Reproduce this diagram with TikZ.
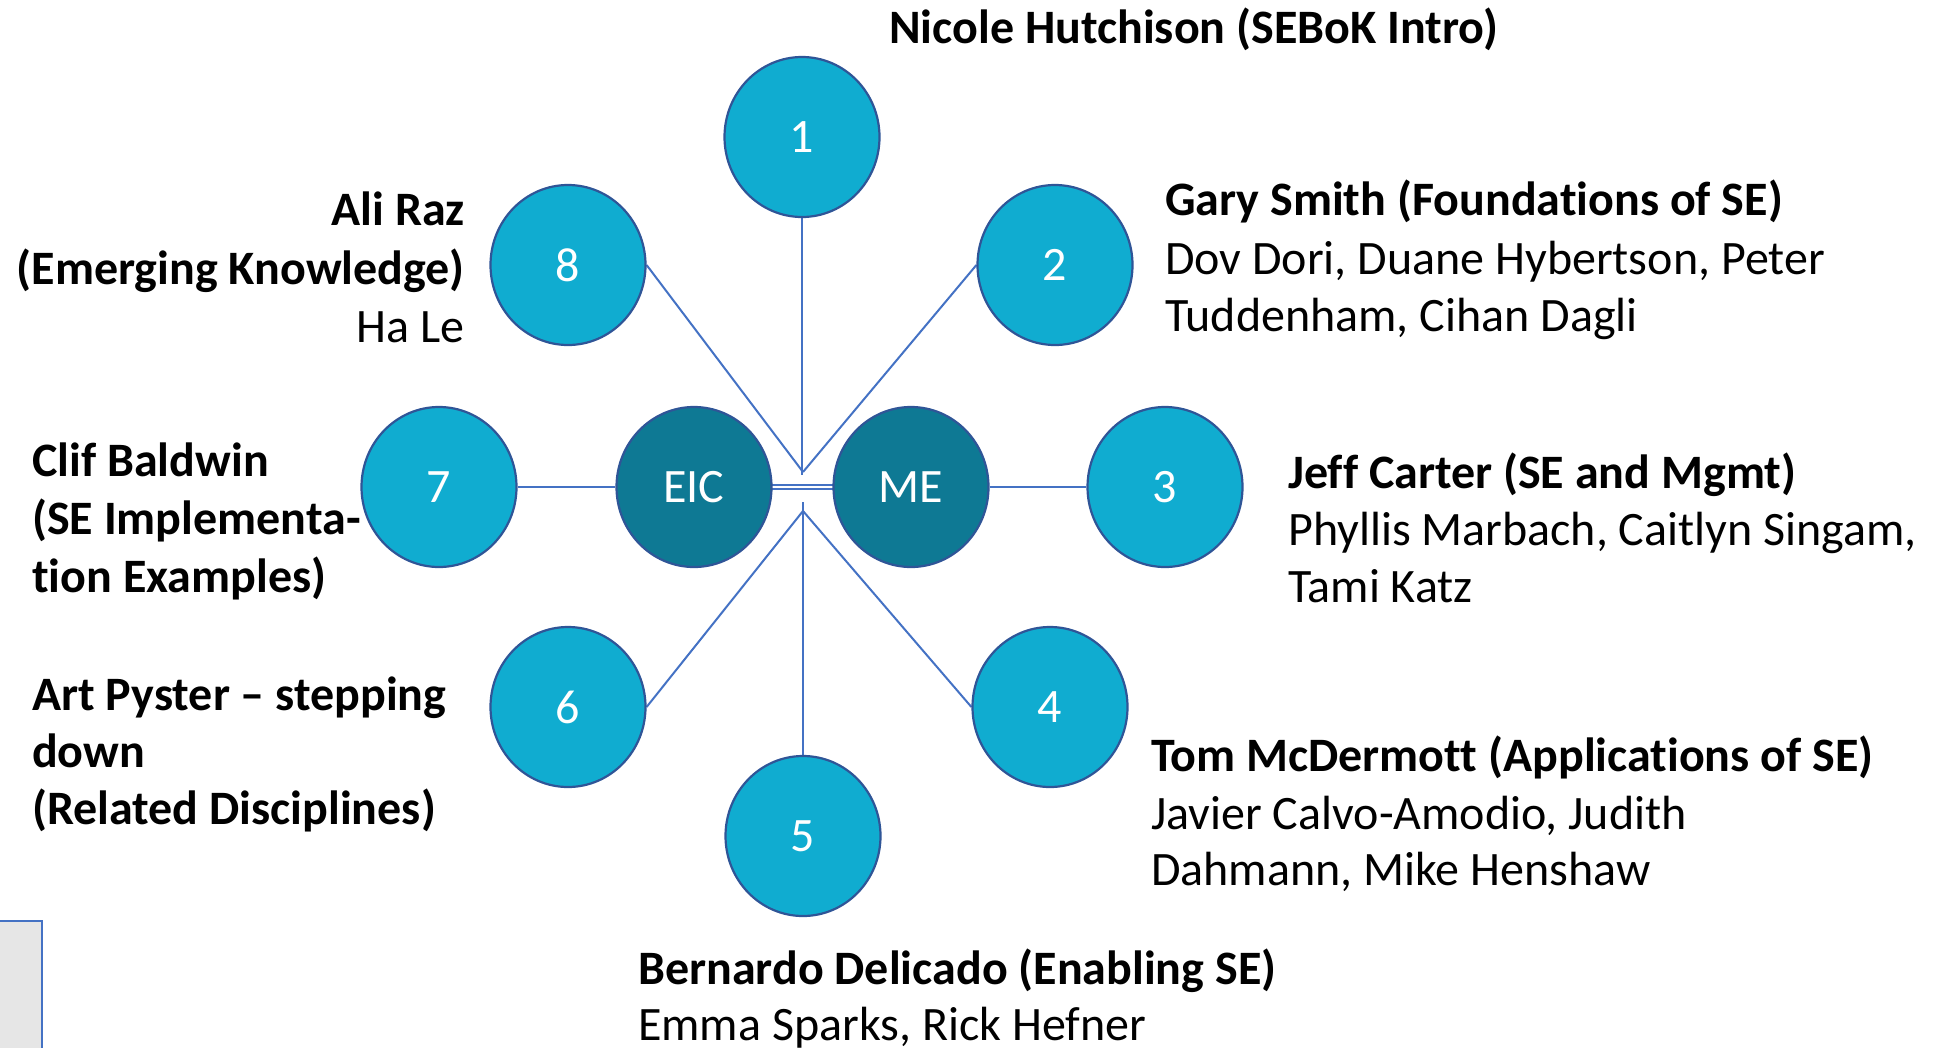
\documentclass[tikz,border=0pt]{standalone}
\usepackage{fontspec}
\setmainfont{Carlito}[Ligatures=NoCommon]
\usetikzlibrary{shapes.geometric,backgrounds}
\definecolor{outerfill}{RGB}{16,172,208}
\definecolor{innerfill}{RGB}{14,121,148}
\definecolor{ringcol}{RGB}{47,85,151}
\definecolor{linkcol}{RGB}{68,114,196}
\definecolor{boxfill}{RGB}{230,230,230}
\begin{document}
\begin{tikzpicture}[x=1pt,y=-1pt,
  bubble/.style={ellipse, draw=ringcol, line width=2.2pt, fill=outerfill,
    minimum width=155pt, minimum height=160pt, inner sep=0pt, text=white,
    font=\fontsize{48}{58}\selectfont},
  hub/.style={bubble, fill=innerfill},
  link/.style={draw=linkcol, line width=2pt},
  headtxt/.style={font=\bfseries\fontsize{48}{58}\selectfont, inner sep=0pt, text=black},
  nametxt/.style={font=\fontsize{48}{58}\selectfont, inner sep=0pt, text=black},
]
\useasboundingbox (0,0) rectangle (1937,1047);

% grey box at lower left
\path[fill=boxfill, draw=linkcol, line width=2.5pt] (-10,921) rectangle (42,1070);

% circles
\node[bubble] (c1) at (802,137) {1};
\node[bubble] (c2) at (1055,265) {2};
\node[bubble] (c3) at (1165,487) {3};
\node[bubble] (c4) at (1050,707) {4};
\node[bubble] (c5) at (803,836) {5};
\node[bubble] (c6) at (568,707) {6};
\node[bubble] (c7) at (439,487) {7};
\node[bubble] (c8) at (568,265) {8};
\node[hub] (eic) at (694,487) {EIC};
\node[hub] (me) at (911,487) {ME};

\coordinate (up) at (803,472);
\coordinate (upv) at (803,475);
\coordinate (lo) at (803,511);
\coordinate (lov) at (803,502);

\begin{scope}[on background layer]
  \draw[link] (c1.center |- c1.south) -- (c1.center |- upv);
  \draw[link] (c8.east) -- (up);
  \draw[link] (c2.west) -- (up);
  \draw[link] (c7) -- (eic);
  \draw[link] (me) -- (c3);
  \path (eic.center) ++(0,-2.4) coordinate (d1) (me.center) ++(0,-2.4) coordinate (d2);
  \draw[link] (d1) -- (d2);
  \path (eic.center) ++(0,2.4) coordinate (d3) (me.center) ++(0,2.4) coordinate (d4);
  \draw[link] (d3) -- (d4);
  \draw[link] (c5.center |- lov) -- (c5.north);
  \draw[link] (c6.east) -- (lo);
  \draw[link] (c4.west) -- (lo);
\end{scope}

% labels
\node[headtxt, anchor=base west] (t1) at (889,43) {Nicole Hutchison (SEBoK Intro)};

\node[headtxt, anchor=base west] (t2a) at (1165,215.5) {Gary Smith (Foundations of SE)};
\node[nametxt, anchor=base west] (t2b) at (1165,274) {Dov Dori, Duane Hybertson, Peter};
\node[nametxt, anchor=base west] (t2c) at (1165,331) {Tuddenham, Cihan Dagli};

\node[headtxt, anchor=base west] (t3a) at (1288,488) {Jeff Carter (SE and Mgmt)};
\node[nametxt, anchor=base west] (t3b) at (1288,545.5) {Phyllis Marbach, Caitlyn Singam,};
\node[nametxt, anchor=base west] (t3c) at (1288,602.5) {Tami Katz};

\node[headtxt, anchor=base west] (t4a) at (1151,771.5) {Tom McDermott (Applications of SE)};
\node[nametxt, anchor=base west] (t4b) at (1151,829.5) {Javier Calvo-Amodio, Judith};
\node[nametxt, anchor=base west] (t4c) at (1151,885.5) {Dahmann, Mike Henshaw};

\node[headtxt, anchor=base west] (t5a) at (638,984.5) {Bernardo Delicado (Enabling SE)};
\node[nametxt, anchor=base west] (t5b) at (638,1040.5) {Emma Sparks, Rick Hefner};

\node[headtxt, anchor=base west] (t6a) at (32,710) {Art Pyster – stepping};
\node[headtxt, anchor=base west] (t6b) at (32,767) {down};
\node[headtxt, anchor=base west] (t6c) at (32,824) {(Related Disciplines)};

\node[headtxt, anchor=base west] (t7a) at (32,476.5) {Clif Baldwin};
\node[headtxt, anchor=base west] (t7b) at (32,534) {(SE Implementa-};
\node[headtxt, anchor=base west] (t7c) at (32,592) {tion Examples)};

\node[headtxt, anchor=base east] (t8a) at (465,225) {Ali Raz};
\node[headtxt, anchor=base east] (t8b) at (465,284) {(Emerging Knowledge)};
\node[nametxt, anchor=base east] (t8c) at (465,342) {Ha Le};
\end{tikzpicture}
\end{document}
